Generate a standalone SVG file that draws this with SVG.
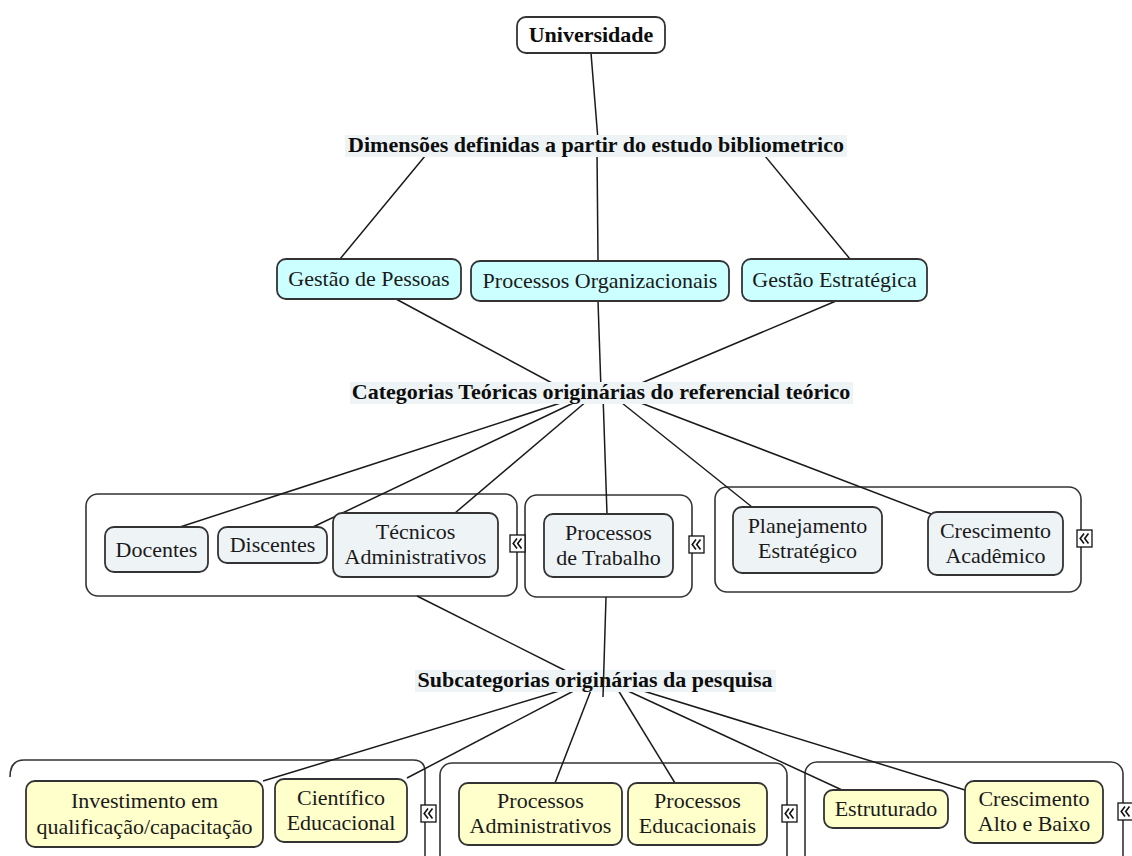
<svg xmlns="http://www.w3.org/2000/svg" width="1132" height="856" viewBox="0 0 1132 856">
  <defs>
    <style>
      .frame { fill: #ffffff; stroke: #333333; stroke-width: 1.6; }
      .node { stroke: #333333; stroke-width: 1.8; }
      .root { fill: #ffffff; }
      .dim { fill: #ccffff; }
      .cat { fill: #eef3f6; }
      .sub { fill: #ffffcc; }
      .link { stroke: #1a1a1a; stroke-width: 1.5; fill: none; }
      .lblbg { fill: #eef3f5; }
      .t { font-family: "Liberation Serif", "Times New Roman", serif; font-size: 22px; fill: #1a1a1a; text-anchor: middle; }
      .b { font-weight: bold; fill: #0d0d0d; }
      .icon rect { fill: #ffffff; stroke: #111111; stroke-width: 1.3; }
      .icon path { fill: none; stroke: #111111; stroke-width: 1.6; }
    </style>
    <!-- collapse/expand toggle shown beside each grouped frame -->
    <g id="toggle" class="icon">
      <rect x="0" y="0" width="15" height="17"/>
      <path d="M7 3.5 L3.2 8.5 L7 13.5 M11.5 3.5 L7.7 8.5 L11.5 13.5"/>
    </g>
  </defs>

  <rect width="1132" height="856" fill="#ffffff"/>

  <!-- grouping frames -->
  <g id="frames">
    <rect class="frame" x="86" y="494" width="431" height="102" rx="12"/>
    <rect class="frame" x="525" y="495" width="167" height="102" rx="12"/>
    <rect class="frame" x="715" y="487" width="366" height="105" rx="12"/>
    <path class="frame" d="M10 777 Q10 760 24 760 H413 Q425 760 425 772 V880 H10"/>
    <rect class="frame" x="440" y="763" width="347" height="130" rx="12"/>
    <rect class="frame" x="805" y="762" width="318" height="130" rx="12"/>
  </g>

  <!-- connectors -->
  <g id="connectors" class="link">
    <line x1="591" y1="53" x2="598" y2="140"/>
    <line x1="430" y1="150" x2="340" y2="259"/>
    <line x1="597" y1="150" x2="598" y2="261"/>
    <line x1="760" y1="150" x2="850" y2="259"/>
    <line x1="396" y1="299" x2="565" y2="390"/>
    <line x1="598" y1="301" x2="601" y2="390"/>
    <line x1="836" y1="301" x2="625" y2="390"/>
    <line x1="585" y1="395" x2="180" y2="527"/>
    <line x1="590" y1="395" x2="313" y2="527"/>
    <line x1="594" y1="395" x2="455" y2="513"/>
    <line x1="603" y1="395" x2="607" y2="514"/>
    <line x1="612" y1="395" x2="752" y2="507"/>
    <line x1="620" y1="395" x2="931" y2="514"/>
    <line x1="417" y1="596" x2="580" y2="678"/>
    <line x1="579" y1="685" x2="263" y2="781"/>
    <line x1="585" y1="685" x2="407" y2="778"/>
    <line x1="593" y1="685" x2="555" y2="783"/>
    <line x1="615" y1="685" x2="675" y2="783"/>
    <line x1="615" y1="685" x2="842" y2="790"/>
    <line x1="624" y1="685" x2="965" y2="790"/>
  </g>

  <!-- linking phrases -->
  <g id="label-dimensoes">
    <rect class="lblbg" x="345" y="135" width="502" height="22"/>
    <text class="t b" x="596" y="152">Dimensões definidas a partir do estudo bibliometrico</text>
  </g>
  <g id="label-categorias">
    <rect class="lblbg" x="350" y="382" width="503" height="22"/>
    <text class="t b" x="601" y="399">Categorias Teóricas originárias do referencial teórico</text>
  </g>
  <g id="label-subcategorias">
    <rect class="lblbg" x="415" y="670" width="361" height="22"/>
    <text class="t b" x="595" y="687">Subcategorias originárias da pesquisa</text>
  </g>
  <!-- this link runs over its phrase -->
  <line class="link" x1="606" y1="597" x2="603" y2="697"/>

  <!-- root -->
  <g id="universidade">
    <rect class="node root" x="517" y="17" width="148" height="36" rx="9"/>
    <text class="t b" x="591" y="42">Universidade</text>
  </g>

  <!-- dimensions -->
  <g id="gestao-pessoas">
    <rect class="node dim" x="277" y="259" width="184" height="40" rx="9"/>
    <text class="t" x="369" y="286">Gestão de Pessoas</text>
  </g>
  <g id="processos-organizacionais">
    <rect class="node dim" x="471" y="261" width="258" height="40" rx="9"/>
    <text class="t" x="600" y="288">Processos Organizacionais</text>
  </g>
  <g id="gestao-estrategica">
    <rect class="node dim" x="742" y="259" width="185" height="42" rx="9"/>
    <text class="t" x="834.5" y="287">Gestão Estratégica</text>
  </g>

  <!-- theoretical categories -->
  <g id="docentes">
    <rect class="node cat" x="105" y="527" width="103" height="45" rx="9"/>
    <text class="t" x="156.5" y="557">Docentes</text>
  </g>
  <g id="discentes">
    <rect class="node cat" x="218" y="527" width="109" height="36" rx="9"/>
    <text class="t" x="272.5" y="552">Discentes</text>
  </g>
  <g id="tecnicos">
    <rect class="node cat" x="333" y="513" width="165" height="64" rx="9"/>
    <text class="t" x="415.5" y="539">Técnicos</text>
    <text class="t" x="415.5" y="564">Administrativos</text>
  </g>
  <g id="processos-trabalho">
    <rect class="node cat" x="544" y="514" width="129" height="63" rx="9"/>
    <text class="t" x="608.5" y="540">Processos</text>
    <text class="t" x="608.5" y="565">de Trabalho</text>
  </g>
  <g id="planejamento">
    <rect class="node cat" x="733" y="507" width="149" height="66" rx="9"/>
    <text class="t" x="807.5" y="533">Planejamento</text>
    <text class="t" x="807.5" y="558">Estratégico</text>
  </g>
  <g id="crescimento-academico">
    <rect class="node cat" x="928" y="512" width="135" height="63" rx="9"/>
    <text class="t" x="995.5" y="538">Crescimento</text>
    <text class="t" x="995.5" y="563">Acadêmico</text>
  </g>

  <!-- research subcategories -->
  <g id="investimento">
    <rect class="node sub" x="26" y="781" width="237" height="66" rx="9"/>
    <text class="t" x="144.5" y="808">Investimento em</text>
    <text class="t" x="144.5" y="834">qualificação/capacitação</text>
  </g>
  <g id="cientifico">
    <rect class="node sub" x="275" y="779" width="132" height="63" rx="9"/>
    <text class="t" x="341" y="805">Científico</text>
    <text class="t" x="341" y="830">Educacional</text>
  </g>
  <g id="processos-administrativos">
    <rect class="node sub" x="459" y="783" width="163" height="62" rx="9"/>
    <text class="t" x="540.5" y="808">Processos</text>
    <text class="t" x="540.5" y="833">Administrativos</text>
  </g>
  <g id="processos-educacionais">
    <rect class="node sub" x="628" y="783" width="139" height="62" rx="9"/>
    <text class="t" x="697.5" y="808">Processos</text>
    <text class="t" x="697.5" y="833">Educacionais</text>
  </g>
  <g id="estruturado">
    <rect class="node sub" x="824" y="790" width="124" height="38" rx="9"/>
    <text class="t" x="886" y="816">Estruturado</text>
  </g>
  <g id="crescimento-alto-baixo">
    <rect class="node sub" x="965" y="781" width="138" height="62" rx="9"/>
    <text class="t" x="1034" y="806">Crescimento</text>
    <text class="t" x="1034" y="831">Alto e Baixo</text>
  </g>

  <!-- frame toggles -->
  <g id="toggles">
    <use href="#toggle" x="510" y="535"/>
    <use href="#toggle" x="689" y="536"/>
    <use href="#toggle" x="1077" y="530"/>
    <use href="#toggle" x="421" y="805"/>
    <use href="#toggle" x="782" y="805"/>
    <use href="#toggle" x="1118" y="803"/>
  </g>
</svg>
